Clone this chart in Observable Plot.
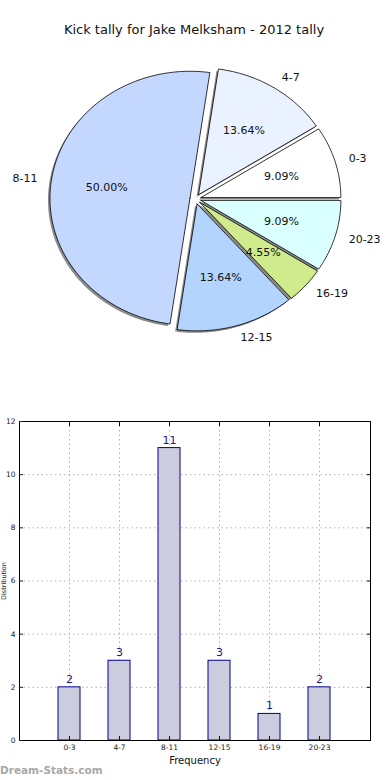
<!DOCTYPE html>
<html><head><meta charset="utf-8">
<script src="https://cdn.jsdelivr.net/npm/d3@7"></script>
<script src="https://cdn.jsdelivr.net/npm/@observablehq/plot@0.6"></script>
<style>
body{margin:0;background:#fff;width:390px;height:780px;overflow:hidden;position:relative;font-family:"DejaVu Sans",sans-serif}
#title{position:absolute;left:0;top:22px;width:388px;text-align:center;font-size:13px;color:#111;line-height:16px}
#pie{position:absolute;left:0;top:45px}
#bar{position:absolute;left:0;top:400px}
#wm{position:absolute;left:0;top:763px;font-size:10.5px;font-weight:bold;color:#a8a8a8;line-height:14px}
svg{overflow:visible}
</style></head><body>
<div id="title">Kick tally for Jake Melksham - 2012 tally</div>
<div id="pie"></div>
<div id="bar"></div>
<div id="wm">Dream-Stats.com</div>
<script>
const categories = ["0-3","4-7","8-11","12-15","16-19","20-23"];
const counts = [2,3,11,3,1,2];
const pieColors = ["#ffffff","#ebf2ff","#c4d8ff","#b3d4fd","#d0eb8b","#d9ffff"];
const explode = [0.04,0.04,0.04,0.04,0.04,0.04];
const yTicks = [0,2,4,6,8,10,12];
const titleText = "Kick tally for Jake Melksham - 2012 tally";
const xLabel = "Frequency";
const yLabel = "Distribution";
const font = "DejaVu Sans";

// ---- pie geometry from data ----
const total = d3.sum(counts);
const poly = [];
const labels = [];
let acc = 0;
categories.forEach((cat, i) => {
  const a0 = acc / total * 2 * Math.PI;
  acc += counts[i];
  const a1 = acc / total * 2 * Math.PI;
  const mid = (a0 + a1) / 2;
  const ox = explode[i] * Math.cos(mid), oy = explode[i] * Math.sin(mid);
  poly.push({cat, x: ox, y: oy});
  const n = Math.max(4, Math.ceil((a1 - a0) / (Math.PI / 180)));
  for (let k = 0; k <= n; k++) {
    const a = a0 + (a1 - a0) * k / n;
    poly.push({cat, x: ox + Math.cos(a), y: oy + Math.sin(a)});
  }
  poly.push({cat, x: ox, y: oy});
  labels.push({
    cat,
    pct: (counts[i] / total * 100).toFixed(2) + "%",
    lx: ox + 1.1 * Math.cos(mid), ly: oy + 1.1 * Math.sin(mid),
    px: ox + 0.6 * Math.cos(mid), py: oy + 0.6 * Math.sin(mid),
    right: Math.cos(mid) >= 0
  });
});

const pie = Plot.plot({
  width: 390, height: 355,
  marginTop: 0, marginBottom: 0, marginLeft: 0, marginRight: 0,
  style: {fontFamily: font, background: "transparent"},
  x: {domain: [-1, 1], range: [55, 335], axis: null},
  y: {domain: [-1, 1], range: [280.5, 26.5], axis: null},
  color: {domain: categories, range: pieColors},
  marks: [
    Plot.line(poly, {x: "x", y: "y", z: "cat", fill: "#000", fillOpacity: 0.45, stroke: "none", dx: -2, dy: 2, curve: "linear"}),
    Plot.line(poly, {x: "x", y: "y", z: "cat", fill: "cat", stroke: "#000", strokeWidth: 0.8, curve: "linear"}),
    Plot.text(labels.filter(d => d.right), {x: "lx", y: "ly", text: "cat", textAnchor: "start", fontSize: 11, fill: "#111"}),
    Plot.text(labels.filter(d => !d.right), {x: "lx", y: "ly", text: "cat", textAnchor: "end", fontSize: 11, fill: "#111"}),
    Plot.text(labels, {x: "px", y: "py", text: "pct", fontSize: 11, fill: "#111"})
  ]
});
document.getElementById("pie").append(pie);

// ---- bar chart ----
const bars = categories.map((c, i) => ({cat: c, count: counts[i]}));
const bar = Plot.plot({
  width: 390, height: 380,
  marginTop: 21, marginBottom: 40, marginLeft: 19, marginRight: 20,
  style: {fontFamily: font, background: "transparent"},
  x: {type: "band", domain: categories, range: [44, 344], paddingInner: 0.55, paddingOuter: 0.275, align: 0.5},
  y: {domain: [0, 12]},
  marks: [
    Plot.ruleY(yTicks, {stroke: "#b0b0b0", strokeDasharray: "1.5,3"}),
    Plot.ruleX(categories, {x: d => d, stroke: "#b0b0b0", strokeDasharray: "1.5,3"}),
    Plot.barY(bars, {x: "cat", y: "count", fill: "#ccccdf", stroke: "#00008b", strokeWidth: 1, inset: 0}),
    Plot.text(bars, {x: "cat", y: "count", text: "count", dy: -8, fill: "#1a1a8c", fontSize: 11}),
    Plot.frame({stroke: "#000", strokeWidth: 1}),
    Plot.axisY(yTicks, {anchor: "left", tickSize: 0, tickPadding: 4, fontSize: 7.5, label: null, color: "#222"}),
    Plot.axisY(yTicks, {anchor: "left", tickSize: -4, text: null, label: yLabel, fontSize: 6.5, labelAnchor: "center", labelOffset: 18, labelArrow: false, color: "#222"}),
    Plot.axisY(yTicks, {anchor: "right", tickSize: -4, text: null, label: null}),
    Plot.axisX({anchor: "bottom", tickSize: 0, tickPadding: 4, fontSize: 7.5, label: null, color: "#222"}),
    Plot.axisX({anchor: "bottom", tickSize: -4, text: null, label: xLabel, fontSize: 10, labelAnchor: "center", labelOffset: 23, labelArrow: false, color: "#111"}),
    Plot.axisX({anchor: "top", tickSize: -4, text: null, label: null})
  ]
});
document.getElementById("bar").append(bar);
</script>
</body></html>
